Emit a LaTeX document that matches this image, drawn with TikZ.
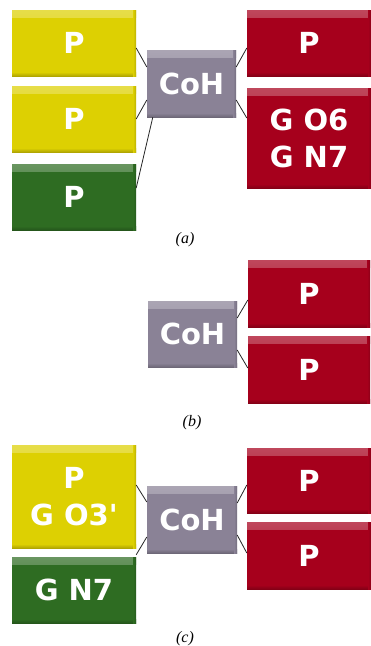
\documentclass[tikz,border=0pt]{standalone}
\usepackage{fontspec}
\setmainfont{Liberation Serif}
\newfontfamily\boxfont{DejaVu Sans}
\usetikzlibrary{calc}
\definecolor{cyel}{RGB}{221,208,2}
\definecolor{cgrn}{RGB}{46,108,34}
\definecolor{cred}{RGB}{166,0,28}
\definecolor{cgry}{RGB}{138,130,150}
\tikzset{
  box/.style={draw=none, fill=#1, inner sep=0pt, text=white, align=center,
    font=\boxfont\bfseries\fontsize{29}{37}\selectfont,
    path picture={
      \shade[top color=#1!72!white, bottom color=#1] (path picture bounding box.north west) rectangle ([yshift=-7pt]path picture bounding box.north east);
      \shade[top color=#1, bottom color=#1!80!black] ([yshift=4pt]path picture bounding box.south west) rectangle (path picture bounding box.south east);
      \shade[left color=#1, right color=#1!85!black] ([xshift=-3pt]path picture bounding box.north east) rectangle (path picture bounding box.south east);
    }},
  link/.style={draw=black!85, line width=0.8pt},
  captxt/.style={font=\itshape\fontsize{16}{18}\selectfont}
}
\begin{document}
\begin{tikzpicture}[x=1pt,y=-1pt]
\useasboundingbox[fill=white] (0,0) rectangle (370,646);
% panel (a)
\node[box=cyel, minimum width=124pt, minimum height=66pt] (ay1) at (74,43) {P};
\node[box=cyel, minimum width=124pt, minimum height=66pt] (ay2) at (74,119) {P};
\node[box=cgrn, minimum width=124pt, minimum height=66pt] (ag) at (74,197) {P};
\node[box=cgry, minimum width=89pt, minimum height=67pt] (acoh) at (191.5,83.5) {CoH};
\node[box=cred, minimum width=124pt, minimum height=66pt] (ar1) at (309,43) {P};
\node[box=cred, minimum width=124pt, minimum height=100pt] (ar2) at (309,138) {G O6\\G N7};
\draw[link] ([yshift=-5pt]ay1.east) -- ([yshift=16.5pt]acoh.west);
\draw[link] (ay2.east) -- ([yshift=-16.5pt]acoh.west);
\draw[link] ([yshift=9pt]ag.east) -- ([xshift=6pt]acoh.south west);
\draw[link] ([yshift=16.5pt]acoh.east) -- ([yshift=-5pt]ar1.west);
\draw[link] ([yshift=-16.5pt]acoh.east) -- ([yshift=20pt]ar2.west);
\node[captxt] (la) at (185,240) {(a)};
% panel (b)
\node[box=cgry, minimum width=89pt, minimum height=66pt] (bcoh) at (192.5,334) {CoH};
\node[box=cred, minimum width=122pt, minimum height=67pt] (br1) at (309,293.5) {P};
\node[box=cred, minimum width=122pt, minimum height=67pt] (br2) at (309,369.5) {P};
\draw[link] ([yshift=16pt]bcoh.east) -- ([yshift=-6.5pt]br1.west);
\draw[link] ([yshift=-16pt]bcoh.east) -- ([yshift=1.5pt]br2.west);
\node[captxt] (lb) at (192,423) {(b)};
% panel (c)
\node[box=cyel, minimum width=124pt, minimum height=103pt] (cy) at (74,496.5) {P\\G O3'};
\node[box=cgrn, minimum width=124pt, minimum height=66pt] (cg) at (74,590) {G N7};
\node[box=cgry, minimum width=90pt, minimum height=67pt] (ccoh) at (192,519.5) {CoH};
\node[box=cred, minimum width=124pt, minimum height=65pt] (cr1) at (309,480.5) {P};
\node[box=cred, minimum width=124pt, minimum height=67pt] (cr2) at (309,555.5) {P};
\draw[link] ([yshift=11.5pt]cy.east) -- ([yshift=17.5pt]ccoh.west);
\draw[link] ([yshift=2pt]cg.north east) -- ([yshift=-17.5pt]ccoh.west);
\draw[link] ([yshift=16.5pt]ccoh.east) -- ([yshift=-4.5pt]cr1.west);
\draw[link] ([yshift=-15.5pt]ccoh.east) -- ([yshift=2.5pt]cr2.west);
\node[captxt] (lc) at (185,639) {(c)};
\end{tikzpicture}
\end{document}
